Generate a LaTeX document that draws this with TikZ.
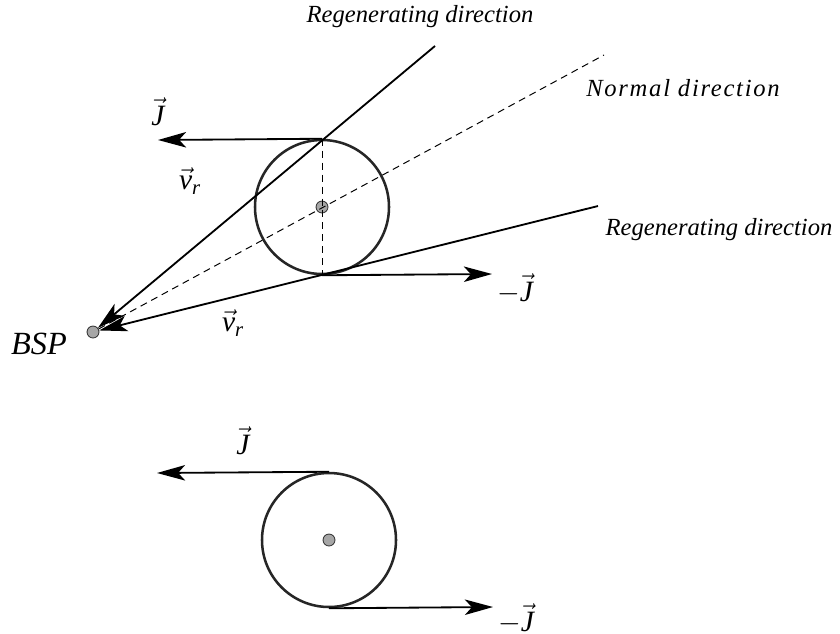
\documentclass[tikz,border=0pt]{standalone}
\usepackage{amsmath}
\usepackage{fontspec}
\setmainfont{Liberation Serif}
\usetikzlibrary{arrows.meta}

\begin{document}
\begin{tikzpicture}[
  x=0.025cm, y=-0.025cm,
  font=\fontsize{17.5}{21}\selectfont\itshape,
  disc/.style={draw=black!85, line width=1.8pt, circle, minimum size=134*0.025cm, inner sep=0pt},
  dot/.style={draw=black!80, fill=black!35, circle, minimum size=8.5pt, inner sep=0pt, line width=0.6pt},
  ar/.style={-{Stealth[length=20pt,width=11pt,inset=5pt]}, line width=1.3pt},
  ray/.style={line width=1.1pt},
  aux/.style={line width=0.7pt, dash pattern=on 5pt off 3.5pt},
  lbl/.style={inner sep=1pt},
  mlbl/.style={inner sep=1pt, font=\fontsize{21}{24}\selectfont},
]
\useasboundingbox (0,0) rectangle (840,633);

% upper sketch
\node[disc] (c1) at (322,207) {};
\node[dot]  (o1) at (322,207) {};
\node[dot]  (bsp) at (93,332) {};

\coordinate (regA) at (435,46);
\coordinate (regB) at (598,206);
\coordinate (nrm)  at (604,55);
\coordinate (j1)   at (158,140);
\coordinate (mj1)  at (492,274);

\draw[aux] (bsp) -- (nrm);
\draw[aux] (c1.north) -- (c1.south);
\draw[ray, ar] (regA) -- (bsp);
\draw[ray, ar] (regB) -- (bsp);
\draw[ar] (c1.north) -- (j1);
\draw[ar] (c1.south) -- (mj1);

\node[lbl] (tRegA) at (420,17)  {Regenerating direction};
\node[lbl] (tNrm)  at (683,88)  {\addfontfeature{LetterSpace=7}Normal direction};
\node[lbl] (tRegB) at (719,230) {Regenerating direction};
\node[lbl, font=\fontsize{23}{26}\selectfont\itshape] (tBsp) at (39,344) {BSP};
\node[mlbl] (tJ1)  at (158,112) {$\vec{\textit{J}}$};
\node[mlbl] (tV1)  at (190,181) {$\vec{\textit{v}}_{\textit{r}}$};
\node[mlbl] (tV2)  at (233,323) {$\vec{\textit{v}}_{\textit{r}}$};
\node[mlbl] (tMJ1) at (515,289) {$-\vec{\textit{J}}$};

% lower sketch
\node[disc] (c2) at (329,540) {};
\node[dot]  (o2) at (329,540) {};

\coordinate (j2)  at (157,473);
\coordinate (mj2) at (493,607);

\draw[ar] (c2.north) -- (j2);
\draw[ar] (c2.south) -- (mj2);

\node[mlbl] (tJ2)  at (243,441) {$\vec{\textit{J}}$};
\node[mlbl] (tMJ2) at (516,619) {$-\vec{\textit{J}}$};

\end{tikzpicture}
\end{document}
